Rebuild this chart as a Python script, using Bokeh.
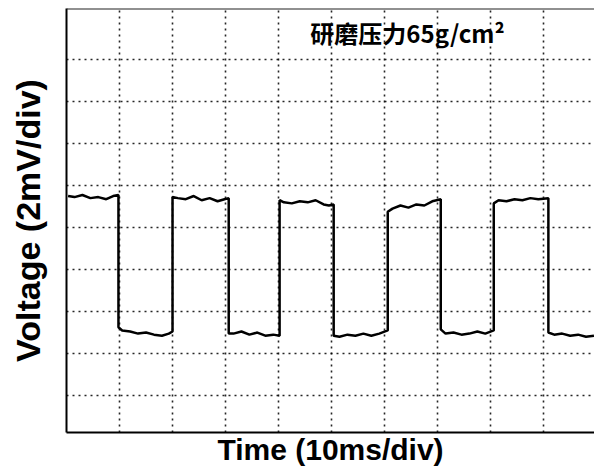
from bokeh.plotting import figure
from bokeh.models import FixedTicker, Span, Label, Range1d
from bokeh.embed import file_html
from bokeh.resources import INLINE

# Oscilloscope trace: time in ms (10 ms/div), voltage in mV (2 mV/div)
time_ms = [0.3, 1.5, 3.0, 4.5, 6.0, 7.5, 8.8, 9.8,
           9.8, 10.5, 12.0, 13.5, 15.0, 16.5, 18.0, 19.3, 20.0,
           20.0, 21.0, 22.5, 24.0, 25.5, 27.0, 28.5, 29.8, 30.6,
           30.6, 31.5, 33.0, 34.5, 36.0, 37.5, 39.0, 40.2,
           40.2, 41.0, 42.5, 44.0, 45.5, 47.0, 48.5, 49.5, 50.4,
           50.4, 51.5, 53.0, 54.5, 56.0, 57.5, 59.0, 60.6,
           60.6, 61.5, 63.0, 64.5, 66.0, 67.5, 69.0, 70.6,
           70.6, 71.5, 73.0, 74.5, 76.0, 77.5, 79.0, 80.6,
           80.6, 81.5, 83.0, 84.5, 86.0, 87.5, 89.0, 90.9,
           90.9, 92.0, 93.5, 95.0, 96.5, 98.0, 99.5]
volt_mv = [9.50, 9.45, 9.55, 9.40, 9.45, 9.35, 9.50, 9.55,
           3.25, 3.10, 3.05, 2.95, 3.00, 2.90, 2.85, 2.95, 3.05,
           9.45, 9.40, 9.35, 9.50, 9.30, 9.40, 9.25, 9.35, 9.40,
           2.95, 2.95, 3.05, 2.90, 3.00, 2.85, 2.90, 2.85,
           9.30, 9.20, 9.15, 9.25, 9.20, 9.30, 9.10, 9.05, 9.10,
           2.85, 2.80, 2.90, 2.85, 2.95, 2.85, 2.95, 3.10,
           8.75, 8.90, 9.05, 8.95, 9.10, 9.05, 9.25, 9.35,
           3.15, 2.95, 3.00, 2.90, 2.95, 3.05, 2.95, 3.10,
           9.15, 9.30, 9.25, 9.35, 9.30, 9.40, 9.35, 9.40,
           3.00, 2.90, 2.95, 2.85, 2.90, 2.80, 2.85]

grid_time = [10, 20, 30, 40, 50, 60, 70, 80, 90]
grid_volt = [0, 2, 4, 6, 8, 10, 12, 14, 16]

title_text = "研磨压力65g/cm²"
x_label = "Time (10ms/div)"
y_label = "Voltage (2mV/div)"

X_END = 99.6
Y_START, Y_END = -1.76, 18.43

p = figure(width=594, height=470, output_backend="svg", toolbar_location=None,
           x_range=Range1d(0, X_END), y_range=Range1d(Y_START, Y_END),
           min_border_left=66, min_border_right=0, min_border_top=8, min_border_bottom=38)
p.outline_line_color = None
p.background_fill_color = "white"
p.border_fill_color = "white"

for ax in (p.xaxis[0], p.yaxis[0]):
    ax.ticker = FixedTicker(ticks=[])
    ax.major_tick_line_color = None
    ax.minor_tick_line_color = None
    ax.axis_line_color = "black"
    ax.axis_line_width = 2
    ax.axis_label_text_font = "Liberation Sans"
    ax.axis_label_text_font_style = "bold"
    ax.axis_label_text_color = "black"

p.xaxis.axis_label = x_label
p.yaxis.axis_label = y_label
p.xaxis.axis_label_text_font_size = "30px"
p.yaxis.axis_label_text_font_size = "34px"
p.xaxis.axis_label_standoff = 0
p.yaxis.axis_label_standoff = 20

p.xgrid.ticker = FixedTicker(ticks=grid_time)
p.ygrid.ticker = FixedTicker(ticks=grid_volt)
for g in (p.xgrid[0], p.ygrid[0]):
    g.grid_line_color = "black"
    g.grid_line_dash = "2 4"
    g.grid_line_width = 1.6
    g.grid_line_alpha = 0.85

p.add_layout(Span(location=Y_END, dimension="width", line_color="#222222", line_width=2))

p.line(time_ms, volt_mv, line_color="black", line_width=2.5)

p.add_layout(Label(x=46, y=17.3, text=title_text, text_font="Noto Sans CJK SC",
                   text_font_style="bold", text_font_size="24px", text_color="black",
                   text_baseline="middle", text_align="left"))

open("out.html", "w").write(file_html(p, INLINE))
